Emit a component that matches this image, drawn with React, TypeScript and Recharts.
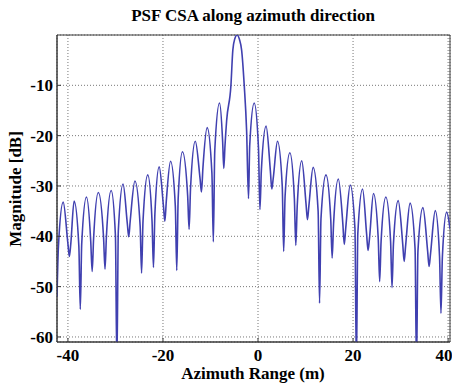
import React from 'react';
import { LineChart, Line, XAxis, YAxis, CartesianGrid, ReferenceArea } from 'recharts';

// [azimuth range (m), magnitude (dB)]
const leftSidelobes: [number, number][] = [
  [-42.3, -52], [-42.0, -42], [-41.0, -33.2],
  [-40.0, -41.5], [-39.7, -44.0], [-39.4, -41.5], [-38.7, -33.0],
  [-37.7, -42], [-37.4, -54.5], [-37.1, -41.5], [-36.1, -32.2],
  [-35.2, -41], [-34.9, -47.0], [-34.6, -40.5], [-33.6, -31.3],
  [-32.5, -40.3], [-32.2, -46.5], [-31.9, -40], [-30.9, -30.9],
  [-30.0, -40], [-29.7, -66], [-29.4, -39], [-28.4, -29.6],
  [-27.5, -37.5], [-27.2, -40.1], [-26.9, -37], [-25.9, -29.0],
  [-24.8, -38], [-24.5, -47.3], [-24.2, -37], [-23.2, -27.8],
  [-22.3, -37], [-22.0, -46.2], [-21.7, -35.5], [-20.8, -26.2],
  [-19.9, -34], [-19.6, -37.0], [-19.3, -33], [-18.4, -25.1],
  [-17.4, -34], [-17.1, -46.8], [-16.8, -32.5], [-15.9, -23.2],
  [-14.8, -32], [-14.5, -38.6], [-14.2, -30.5], [-13.2, -21.1],
  [-12.2, -28.5], [-11.9, -31.2], [-11.6, -26.5], [-10.7, -18.4],
  [-9.7, -27.5], [-9.4, -41.1], [-9.1, -23], [-8.1, -13.5],
  [-7.45, -21], [-7.2, -26.5],
];

const mainLobe: [number, number][] = [
  [-6.95, -22], [-6.6, -17], [-5.7, -10], [-5.3, -3], [-4.9, -0.8],
  [-4.4, 0], [-3.9, -0.9], [-3.45, -3], [-2.9, -10], [-2.4, -19],
  [-2.0, -32.5],
];

const rightSidelobes: [number, number][] = [
  [-1.75, -22], [-0.8, -13.5],
  [0.1, -22.5], [0.4, -34.7], [0.7, -27], [1.7, -18.1],
  [2.6, -27], [2.9, -30.6], [3.2, -28.5], [4.1, -21.1],
  [5.1, -30], [5.4, -43.0], [5.7, -32], [6.7, -23.4],
  [7.65, -32.5], [7.95, -41.8], [8.25, -34], [9.2, -25.0],
  [10.1, -33.5], [10.4, -36.7], [10.7, -34], [11.6, -26.3],
  [12.65, -35], [12.95, -53.3], [13.25, -36.5], [14.3, -27.8],
  [15.3, -36.5], [15.6, -44.3], [15.9, -37.5], [16.9, -28.6],
  [17.85, -37.5], [18.15, -41.6], [18.45, -38.5], [19.4, -29.8],
  [20.4, -38.5], [20.7, -66], [21.0, -39.5], [22.0, -30.6],
  [22.85, -39.5], [23.15, -42.8], [23.45, -40.5], [24.3, -31.5],
  [25.3, -40.5], [25.6, -49.0], [25.9, -41], [26.9, -32.2],
  [27.9, -41], [28.2, -50.2], [28.5, -41.5], [29.5, -32.9],
  [30.45, -41.5], [30.75, -45.0], [31.05, -42], [32.0, -33.4],
  [33.05, -42.5], [33.35, -66], [33.65, -43], [34.7, -34.3],
  [35.7, -43], [36.0, -46.0], [36.3, -43.5], [37.3, -34.9],
  [38.2, -44], [38.5, -55.3], [38.8, -44], [39.7, -35.2],
  [40.4, -38.5],
];

const xTicks = [-40, -20, 0, 20, 40];
const yTicks = [-60, -50, -40, -30, -20, -10];
const xDomain: [number, number] = [-42.3, 40.4];
const yDomain: [number, number] = [-61, 0];

const title = 'PSF CSA along azimuth direction';
const xLabel = 'Azimuth Range (m)';
const yLabel = 'Magnitude [dB]';

const data = [...leftSidelobes, ...mainLobe, ...rightSidelobes].map(([x, y]) => ({ x, y }));

const FONT = '"Liberation Serif", "Times New Roman", serif';
const frame = '#3a3a3a';

const XTick = (props: any) => {
  const { x, y, payload } = props;
  return (
    <text x={x} y={y} dy={12} textAnchor="middle" fontFamily={FONT} fontWeight="bold" fontSize={17} fill="#000">
      {payload.value}
    </text>
  );
};

const YTick = (props: any) => {
  const { x, y, payload } = props;
  return (
    <text x={x} y={y} dy={6} textAnchor="end" fontFamily={FONT} fontWeight="bold" fontSize={17} fill="#000">
      {payload.value}
    </text>
  );
};

export default function App() {
  return (
    <div style={{ position: 'absolute', left: 0, top: 0, width: 452, height: 384, background: '#fff' }}>
      <LineChart width={452} height={384} data={data} margin={{ top: 35, right: 2, bottom: 0, left: 0 }}>
        <CartesianGrid stroke="#777" strokeDasharray="1 2" />
        <XAxis
          type="number"
          dataKey="x"
          domain={xDomain}
          ticks={xTicks}
          allowDataOverflow
          height={42}
          tickSize={-4}
          tickMargin={11}
          tickLine={{ stroke: frame }}
          axisLine={{ stroke: frame }}
          tick={<XTick />}
        />
        <XAxis
          xAxisId="top"
          orientation="top"
          type="number"
          dataKey="x"
          domain={xDomain}
          ticks={xTicks}
          allowDataOverflow
          height={0}
          tickSize={-4}
          tick={false}
          tickLine={{ stroke: frame }}
          axisLine={{ stroke: frame }}
        />
        <YAxis
          type="number"
          domain={yDomain}
          ticks={yTicks}
          allowDataOverflow
          width={57}
          tickSize={-4}
          tickMargin={8}
          tickLine={{ stroke: frame }}
          axisLine={{ stroke: frame }}
          tick={<YTick />}
        />
        <YAxis
          yAxisId="right"
          orientation="right"
          type="number"
          domain={yDomain}
          ticks={yTicks}
          allowDataOverflow
          width={0}
          tickSize={-4}
          tick={false}
          tickLine={{ stroke: frame }}
          axisLine={{ stroke: frame }}
        />
        <ReferenceArea x1={xDomain[0]} x2={xDomain[1]} y1={yDomain[0]} y2={yDomain[1]} fill="none" stroke={frame} fillOpacity={0} />
        <Line
          type="monotone"
          dataKey="y"
          stroke="#4040b0"
          strokeWidth={1.6}
          dot={false}
          isAnimationActive={false}
        />
      </LineChart>
      <svg width={452} height={384} style={{ position: 'absolute', left: 0, top: 0, pointerEvents: 'none' }}>
        <text x={253} y={21} textAnchor="middle" fontFamily={FONT} fontWeight="bold" fontSize={17} fill="#000">
          {title}
        </text>
        <text x={253} y={379} textAnchor="middle" fontFamily={FONT} fontWeight="bold" fontSize={17} fill="#000">
          {xLabel}
        </text>
        <text
          transform="translate(21,189) rotate(-90)"
          textAnchor="middle"
          fontFamily={FONT}
          fontWeight="bold"
          fontSize={17}
          fill="#000"
        >
          {yLabel}
        </text>
      </svg>
    </div>
  );
}
